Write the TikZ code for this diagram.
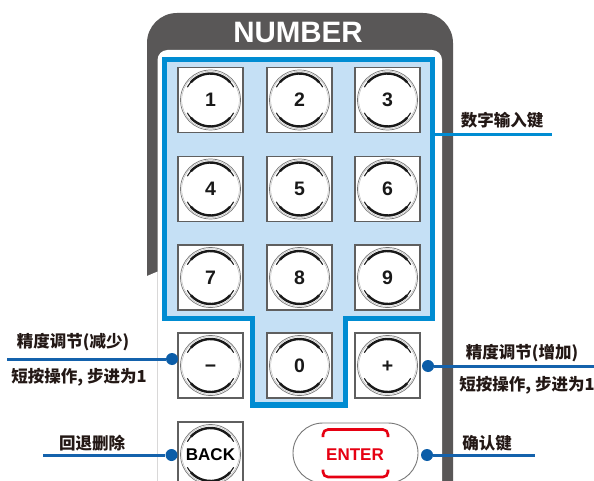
\documentclass[tikz,border=0pt]{standalone}
\usepackage{fontspec}
\setmainfont{Liberation Sans}
\newfontfamily\cjk{Noto Sans CJK SC}
\definecolor{panelgray}{RGB}{89,87,87}
\definecolor{bordblue}{RGB}{0,140,210}
\definecolor{lightblue}{RGB}{197,224,245}
\definecolor{lineblue}{RGB}{20,98,172}
\definecolor{dotblue}{RGB}{11,93,168}
\definecolor{keyborder}{RGB}{95,95,95}
\definecolor{ringgray}{RGB}{120,120,120}
\definecolor{ringlight}{RGB}{180,180,180}
\definecolor{labelblack}{RGB}{35,24,21}
\definecolor{enterred}{RGB}{230,0,18}
\tikzset{
  keysq/.style={draw=keyborder, line width=1.3pt, fill=white, minimum size=65pt, inner sep=0pt},
  ringc/.style={draw=ringgray, line width=0.7pt},
  ringc2/.style={draw=ringlight, line width=0.4pt},
  arcthin/.style={draw=black!90, line width=1.1pt},
  arcc/.style={draw=black!90, line width=2.4pt},
  keytxt/.style={font=\fontsize{19.5}{19.5}\selectfont\bfseries, text height=14pt, text depth=0pt, inner sep=0pt, text=black!90},
  wordtxt/.style={font=\fontsize{17}{17}\selectfont\bfseries, text height=12.2pt, text depth=0pt, inner sep=0pt},
  lbl/.style={font=\cjk\bfseries\fontsize{16.5}{18}\selectfont, inner sep=0pt, text=labelblack},
  dotnode/.style={circle, fill=dotblue, minimum size=12pt, inner sep=0pt},
  darkline/.style={draw=lineblue, line width=3pt},
  brightline/.style={draw=bordblue, line width=3pt},
  enterbox/.style={draw=ringgray, line width=0.9pt, fill=white, rounded corners=30pt, minimum width=125pt, minimum height=60pt, inner sep=0pt},
  redbr/.style={draw=enterred, line width=2.6pt, rounded corners=5pt},
}
\newcommand\mykey[5]{%
  \node[keysq] (#1) at (#2,#3) {};
  \draw[ringc] (#1.center) circle[radius=30];
  \draw[ringc2] (#1.center) circle[radius=28.8];
  \draw[arcthin] (#1.center) ++(29:26.5) arc[start angle=29,end angle=151,radius=26.5];
  \draw[arcthin] (#1.center) ++(209:26.5) arc[start angle=209,end angle=331,radius=26.5];
  \draw[arcc] (#1.center) ++(42:26.5) arc[start angle=42,end angle=138,radius=26.5];
  \draw[arcc] (#1.center) ++(222:26.5) arc[start angle=222,end angle=318,radius=26.5];
  \node[#5] (#1-t) at (#1.center) {#4};
}
\begin{document}
\begin{tikzpicture}[x=1pt,y=-1pt]
\useasboundingbox (0,0) rectangle (594,481);
\clip (0,0) rectangle (594,481);
\fill[white] (0,0) rectangle (594,481);
% gray panel
\fill[panelgray, rounded corners=30pt] (147,13) rectangle (453,520);
\fill[white, rounded corners=10pt] (157.5,50) rectangle (442,530);
\fill[white] (140,279) -- (157.6,271.5) -- (157.6,500) -- (140,500) -- cycle;
% blue number area
\path[draw=bordblue, fill=lightblue, line width=5.5pt] (164.5,59.5) -- (432.5,59.5) -- (432.5,318.5) -- (345.5,318.5) -- (345.5,405) -- (252.5,405) -- (252.5,318.5) -- (164.5,318.5) -- cycle;
\node[font=\fontsize{29.5}{29.5}\selectfont\bfseries, text=white, inner sep=0pt] (title) at (298,32) {NUMBER};
% keys
\mykey{k1}{210.5}{100}{1}{keytxt}
\mykey{k2}{299.5}{100}{2}{keytxt}
\mykey{k3}{387.5}{100}{3}{keytxt}
\mykey{k4}{210.5}{189}{4}{keytxt}
\mykey{k5}{299.5}{189}{5}{keytxt}
\mykey{k6}{387.5}{189}{6}{keytxt}
\mykey{k7}{210.5}{277.5}{7}{keytxt}
\mykey{k8}{299.5}{277.5}{8}{keytxt}
\mykey{k9}{387.5}{277.5}{9}{keytxt}
\mykey{kminus}{210.5}{365.5}{−}{keytxt}
\mykey{k0}{299.5}{365.5}{0}{keytxt}
\mykey{kplus}{387.5}{365.5}{+}{keytxt}
\mykey{kback}{210.5}{454.5}{BACK}{wordtxt}
% enter
\node[enterbox] (enter) at (355.5,453) {};
\draw[redbr] (323,437) -- (323,429.5) -- (388,429.5) -- (388,437);
\draw[redbr] (323,469.5) -- (323,477) -- (388,477) -- (388,469.5);
\node[wordtxt, text=enterred] (enter-t) at (355,454) {ENTER};
% connectors
\coordinate (t0) at (432.5,135);
\coordinate (t1) at (552,135);
\draw[brightline] (t0) -- (t1);
\node[dotnode] (dm) at (172,359) {};
\coordinate (l1) at (7,359);
\draw[darkline] (l1) -- (dm);
\node[dotnode] (db) at (171.5,455) {};
\coordinate (l2) at (43,455);
\draw[darkline] (l2) -- (db);
\node[dotnode] (dp) at (428,366) {};
\coordinate (r1) at (594,366);
\draw[darkline] (dp) -- (r1);
\node[dotnode] (de) at (427,455) {};
\coordinate (r2) at (535,455);
\draw[darkline] (de) -- (r2);
% labels
\node[lbl] (lab1) at (502,120) {数字输入键};
\node[lbl] (lab2) at (73,342) {精度调节(减少)};
\node[lbl] (lab3) at (79,377) {短按操作, 步进为1};
\node[lbl] (lab4) at (92,443) {回退删除};
\node[lbl] (lab5) at (522,353) {精度调节(增加)};
\node[lbl] (lab6) at (527,385) {短按操作, 步进为1};
\node[lbl] (lab7) at (487,443) {确认键};
\end{tikzpicture}
\end{document}
